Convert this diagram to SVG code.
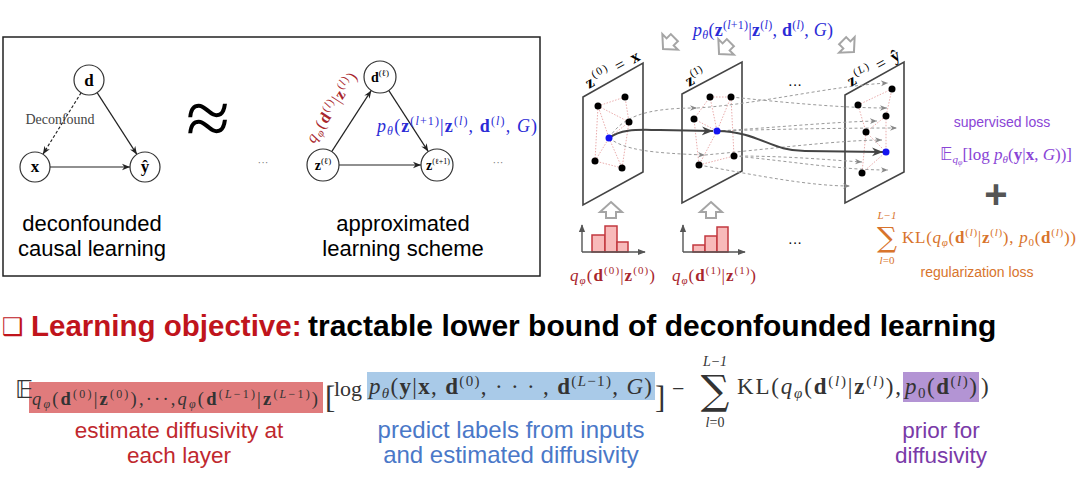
<svg xmlns="http://www.w3.org/2000/svg" width="1080" height="486" viewBox="0 0 1080 486">
<style>
.m{font-family:"Liberation Serif","DejaVu Serif",serif}
.s{font-family:"Liberation Sans",Arial,sans-serif}
.b{font-weight:bold}
.i{font-style:italic}
.node{fill:#fff;stroke:#333;stroke-width:1.2}
.edge{stroke:#222;stroke-width:1.2;fill:none}
.plane{fill:none;stroke:#444;stroke-width:1.6}
.pink{stroke:#e6a3a3;stroke-width:0.9;stroke-dasharray:1.5,1.5;fill:none}
.dash{stroke:#9a9a9a;stroke-width:1;stroke-dasharray:3,2.5;fill:none}
.dot{fill:#000}
.blue{fill:#1414f0}
.hollow{fill:#fff;stroke:#a5a5a5;stroke-width:2;stroke-linejoin:miter}
.bar{fill:#f8baba;stroke:#c2393f;stroke-width:1.5}
.axis{stroke:#555;stroke-width:1.4;fill:none}
.sig{font-family:"DejaVu Serif","Liberation Serif",serif}
</style>
<defs>
<marker id="ah" viewBox="0 0 10 10" refX="10" refY="5" markerWidth="8" markerHeight="8" orient="auto" markerUnits="userSpaceOnUse"><path d="M0,1 L10,5 L0,9 L3,5 z" fill="#222"/></marker>
<marker id="ahg" viewBox="0 0 10 10" refX="10" refY="5" markerWidth="7" markerHeight="7" orient="auto" markerUnits="userSpaceOnUse"><path d="M0,1 L10,5 L0,9 L3,5 z" fill="#888"/></marker>
<marker id="ahd" viewBox="0 0 10 10" refX="10" refY="5" markerWidth="11" markerHeight="11" orient="auto" markerUnits="userSpaceOnUse"><path d="M0,1 L10,5 L0,9 L3,5 z" fill="#444"/></marker>
<marker id="aha" viewBox="0 0 10 10" refX="9" refY="5" markerWidth="8" markerHeight="8" orient="auto" markerUnits="userSpaceOnUse"><path d="M0,1 L10,5 L0,9 z" fill="#555"/></marker>
<path id="harrow" d="M0,-7 L11,3 L5,3 L5,9 L-5,9 L-5,3 L-11,3 Z"/>
</defs>

<!-- left box -->
<rect x="3" y="37" width="537" height="239" fill="none" stroke="#222" stroke-width="1.5"/>

<g id="connectors">
  <line class="edge" x1="97.1" y1="92.6" x2="136.9" y2="154.4" marker-end="url(#ah)"/>
  <line class="edge" x1="81.1" y1="92.7" x2="42.9" y2="154.3" stroke-dasharray="3,2" marker-end="url(#ah)"/>
  <line class="edge" x1="50" y1="167" x2="130" y2="167" marker-end="url(#ah)"/>
  <line class="edge" x1="331.7" y1="151.6" x2="371.3" y2="90.4" marker-end="url(#ah)"/>
  <line class="edge" x1="388.7" y1="90.4" x2="428.3" y2="151.6" marker-end="url(#ah)"/>
  <line class="edge" x1="339" y1="165" x2="421" y2="165" marker-end="url(#ah)"/>
</g>

<g id="node-d"><circle class="node" cx="89" cy="80" r="15"/><text class="m b" x="89" y="86" font-size="17" text-anchor="middle">d</text></g>
<g id="node-x"><circle class="node" cx="35" cy="167" r="15"/><text class="m b" x="35" y="172" font-size="17" text-anchor="middle">x</text></g>
<g id="node-yhat"><circle class="node" cx="145" cy="167" r="15"/><text class="m b" x="145" y="172" font-size="17" text-anchor="middle">ŷ</text></g>
<text class="m" x="60" y="124" font-size="14" fill="#444" text-anchor="middle">Deconfound</text>
<text class="m" x="208" y="145" font-size="80" text-anchor="middle">≈</text>
<text class="m" x="263" y="166" font-size="11" fill="#777" text-anchor="middle">···</text>
<text class="s" x="92" y="231" font-size="22" text-anchor="middle">deconfounded</text>
<text class="s" x="92" y="256" font-size="22" text-anchor="middle">causal learning</text>

<g id="node-dl"><circle class="node" cx="380" cy="77" r="16"/><text class="m" x="380" y="82" font-size="14" text-anchor="middle"><tspan class="b">d</tspan><tspan font-size="9" dy="-6">(ℓ)</tspan></text></g>
<g id="node-zl"><circle class="node" cx="323" cy="165" r="16"/><text class="m" x="323" y="170" font-size="14" text-anchor="middle"><tspan class="b">z</tspan><tspan font-size="9" dy="-6">(ℓ)</tspan></text></g>
<g id="node-zl1"><circle class="node" cx="437" cy="165" r="16"/><text class="m" x="438" y="170" font-size="14" text-anchor="middle"><tspan class="b">z</tspan><tspan font-size="8" dy="-6">(ℓ+1)</tspan></text></g>
<text class="m" transform="translate(314,144) rotate(-57)" font-size="16" fill="#a8262d" textLength="80"><tspan class="i">q</tspan><tspan class="i" font-size="11" dy="3">φ</tspan><tspan dy="-3">(</tspan><tspan class="b">d</tspan><tspan font-size="11" dy="-6">(<tspan class="i">l</tspan>)</tspan><tspan dy="6">|</tspan><tspan class="b">z</tspan><tspan font-size="11" dy="-6">(<tspan class="i">l</tspan>)</tspan><tspan dy="6">)</tspan></text>
<text class="m" x="377" y="132" font-size="18" fill="#2b2bd6" textLength="160"><tspan class="i">p</tspan><tspan class="i" font-size="12" dy="3">θ</tspan><tspan dy="-3">(</tspan><tspan class="b">z</tspan><tspan font-size="12" dy="-7">(<tspan class="i">l</tspan>+1)</tspan><tspan dy="7">|</tspan><tspan class="b">z</tspan><tspan font-size="12" dy="-7">(<tspan class="i">l</tspan>)</tspan><tspan dy="7">, </tspan><tspan class="b">d</tspan><tspan font-size="12" dy="-7">(<tspan class="i">l</tspan>)</tspan><tspan dy="7">, </tspan><tspan class="i">G</tspan>)</text>
<text class="m" x="498" y="166" font-size="11" fill="#777" text-anchor="middle">···</text>
<text class="s" x="403" y="231" font-size="22" text-anchor="middle">approximated</text>
<text class="s" x="403" y="256" font-size="22" text-anchor="middle">learning scheme</text>

<!-- right panel -->
<text class="m" x="693" y="36" font-size="18" fill="#2b2bd6" textLength="140"><tspan class="i">p</tspan><tspan class="i" font-size="12" dy="3">θ</tspan><tspan dy="-3">(</tspan><tspan class="b">z</tspan><tspan font-size="12" dy="-7">(<tspan class="i">l</tspan>+1)</tspan><tspan dy="7">|</tspan><tspan class="b">z</tspan><tspan font-size="12" dy="-7">(<tspan class="i">l</tspan>)</tspan><tspan dy="7">, </tspan><tspan class="b">d</tspan><tspan font-size="12" dy="-7">(<tspan class="i">l</tspan>)</tspan><tspan dy="7">, </tspan><tspan class="i">G</tspan>)</text>
<use href="#harrow" class="hollow" transform="translate(668,44) rotate(225)"/>
<use href="#harrow" class="hollow" transform="translate(724,49) rotate(225)"/>
<use href="#harrow" class="hollow" transform="translate(849,47) rotate(135)"/>

<g id="plane0">
  <path class="plane" d="M583,97 L643,63 L643,172 L583,205 Z"/>
  <text class="m" transform="translate(589,89) rotate(-29.5)" font-size="17" textLength="60"><tspan class="b">z</tspan><tspan font-size="11" dy="-7">(0)</tspan><tspan dy="7"> = </tspan><tspan class="b">x</tspan></text>
  <path class="pink" d="M598,106 L625,97 L629,122 L598,106 L609,138 L629,122 M598,106 L595,161 L622,168 L609,138 L595,161 M629,122 L622,168"/>
</g>
<g id="plane1">
  <path class="plane" d="M682,94 L742,62 L742,171 L682,203 Z"/>
  <text class="m" transform="translate(689,87) rotate(-29.5)" font-size="17"><tspan class="b">z</tspan><tspan font-size="11" dy="-7">(1)</tspan></text>
  <path class="pink" d="M710,97 L731,97 L734,156 L699,165 L694,119 L710,97 L717,131 L694,119 M717,131 L699,165 M731,97 L717,131"/>
</g>
<g id="planeL">
  <path class="plane" d="M845,95 L904,62 L904,172 L845,203 Z"/>
  <text class="m" transform="translate(851,87) rotate(-29.5)" font-size="17" textLength="58"><tspan class="b">z</tspan><tspan font-size="11" dy="-7">(<tspan class="i">L</tspan>)</tspan><tspan dy="7"> = </tspan><tspan class="b">ŷ</tspan></text>
  <path class="pink" d="M858,105 L892,89 L886,116 L866,132 L858,105 M866,132 L886,152 L886,116 M866,132 L862,173 L886,152"/>
</g>
<text class="m" x="795" y="90" font-size="14" text-anchor="middle">···</text>

<g id="flow">
  <path class="dash" d="M609,138 C622,118 642,108 697,108" marker-end="url(#ahg)"/>
  <path class="dash" d="M609,138 C625,150 650,153 705,155" marker-end="url(#ahg)"/>
  <path class="dash" d="M697,108 C760,104 830,86 888,83" marker-end="url(#ahg)"/>
  <path class="dash" d="M731,97 C780,102 840,108 887,108" marker-end="url(#ahg)"/>
  <path class="dash" d="M717,131 C770,128 830,122 877,121" marker-end="url(#ahg)"/>
  <path class="dash" d="M717,131 C780,129 850,128 897,128" marker-end="url(#ahg)"/>
  <path class="dash" d="M705,155 C760,150 840,140 882,140" marker-end="url(#ahg)"/>
  <path class="dash" d="M734,156 C790,156 830,160 862,162" marker-end="url(#ahg)"/>
  <path class="dash" d="M734,156 C790,161 840,170 888,170" marker-end="url(#ahg)"/>
  <path class="dash" d="M699,165 C760,176 810,186 850,186" marker-end="url(#ahg)"/>
  <path d="M609,138 C622,128 640,130 660,130 L713,131" fill="none" stroke="#444" stroke-width="2" marker-end="url(#ahd)"/>
  <path d="M717,131 C760,132 770,151 805,151 L883,152" fill="none" stroke="#444" stroke-width="2" marker-end="url(#ahd)"/>
</g>

<g id="nodes-planes">
  <circle class="dot" cx="598" cy="106" r="3.5"/><circle class="dot" cx="625" cy="97" r="3.5"/><circle class="dot" cx="629" cy="122" r="3.5"/><circle class="dot" cx="595" cy="161" r="3.5"/><circle class="dot" cx="622" cy="168" r="3.5"/><circle class="blue" cx="609" cy="138" r="3.5"/>
  <circle class="dot" cx="710" cy="97" r="3.5"/><circle class="dot" cx="731" cy="97" r="3.5"/><circle class="dot" cx="694" cy="119" r="3.5"/><circle class="dot" cx="734" cy="156" r="3.5"/><circle class="dot" cx="699" cy="165" r="3.5"/><circle class="blue" cx="717" cy="131" r="3.5"/>
  <circle class="dot" cx="892" cy="89" r="3.5"/><circle class="dot" cx="858" cy="105" r="3.5"/><circle class="dot" cx="886" cy="116" r="3.5"/><circle class="dot" cx="866" cy="132" r="3.5"/><circle class="dot" cx="862" cy="173" r="3.5"/><circle class="blue" cx="886" cy="152" r="3.5"/>
</g>

<g id="hist0">
  <use href="#harrow" class="hollow" transform="translate(611,209)"/>
  <rect class="bar" x="592" y="235" width="13" height="17"/><rect class="bar" x="605" y="226" width="12" height="26"/><rect class="bar" x="617" y="242" width="11" height="10"/>
  <path class="axis" d="M582,252 L582,225" marker-end="url(#aha)"/><path class="axis" d="M582,252 L645,252" marker-end="url(#aha)"/>
  <text class="m" x="570" y="281" font-size="17" fill="#a8262d" textLength="85"><tspan class="i">q</tspan><tspan class="i" font-size="11" dy="3">φ</tspan><tspan dy="-3">(</tspan><tspan class="b">d</tspan><tspan font-size="11" dy="-7">(0)</tspan><tspan dy="7">|</tspan><tspan class="b">z</tspan><tspan font-size="11" dy="-7">(0)</tspan><tspan dy="7">)</tspan></text>
</g>
<g id="hist1">
  <use href="#harrow" class="hollow" transform="translate(711,209)"/>
  <rect class="bar" x="693" y="245" width="12" height="7"/><rect class="bar" x="705" y="236" width="12" height="16"/><rect class="bar" x="717" y="227" width="11" height="25"/>
  <path class="axis" d="M683,252 L683,225" marker-end="url(#aha)"/><path class="axis" d="M683,252 L745,252" marker-end="url(#aha)"/>
  <text class="m" x="672" y="281" font-size="17" fill="#a8262d" textLength="84"><tspan class="i">q</tspan><tspan class="i" font-size="11" dy="3">φ</tspan><tspan dy="-3">(</tspan><tspan class="b">d</tspan><tspan font-size="11" dy="-7">(1)</tspan><tspan dy="7">|</tspan><tspan class="b">z</tspan><tspan font-size="11" dy="-7">(1)</tspan><tspan dy="7">)</tspan></text>
</g>
<text class="m" x="795" y="248" font-size="14" text-anchor="middle">···</text>

<g id="losses">
  <text class="s" x="1002" y="127" font-size="14" fill="#8a45d6" text-anchor="middle">supervised loss</text>
  <text class="m" x="940" y="160" font-size="17" fill="#8a45d6" textLength="132"><tspan font-family="DejaVu Sans">𝔼</tspan><tspan class="i" font-size="11" dy="3">q</tspan><tspan class="i" font-size="8" dy="2">φ</tspan><tspan dy="-5">[log </tspan><tspan class="i">p</tspan><tspan class="i" font-size="11" dy="3">θ</tspan><tspan dy="-3">(</tspan><tspan class="b">y</tspan>|<tspan class="b">x</tspan>, <tspan class="i">G</tspan>))]</text>
  <text class="s" x="996" y="208" font-size="40" fill="#555" text-anchor="middle" font-weight="bold">+</text>
  <g fill="#d8742c">
    <text class="m i" x="887" y="219" font-size="11" text-anchor="middle">L−1</text>
    <text class="sig" x="887" y="247" font-size="28" text-anchor="middle">∑</text>
    <text class="m" x="887" y="264" font-size="11" text-anchor="middle"><tspan class="i">l</tspan>=0</text>
    <text class="m" x="902" y="243" font-size="17" textLength="174"><tspan>KL(</tspan><tspan class="i">q</tspan><tspan class="i" font-size="11" dy="3">φ</tspan><tspan dy="-3">(</tspan><tspan class="b">d</tspan><tspan font-size="11" dy="-7">(<tspan class="i">l</tspan>)</tspan><tspan dy="7">|</tspan><tspan class="b">z</tspan><tspan font-size="11" dy="-7">(<tspan class="i">l</tspan>)</tspan><tspan dy="7">), </tspan><tspan class="i">p</tspan><tspan font-size="11" dy="3">0</tspan><tspan dy="-3">(</tspan><tspan class="b">d</tspan><tspan font-size="11" dy="-7">(<tspan class="i">l</tspan>)</tspan><tspan dy="7">))</tspan></text>
    <text class="s" x="977" y="277" font-size="14" text-anchor="middle">regularization loss</text>
  </g>
</g>

<!-- title -->
<text x="2" y="335" font-size="24" fill="#c0141c" font-family="DejaVu Sans">❑</text>
<text class="s b" x="31" y="336" font-size="29.5" fill="#c0141c">Learning objective:</text>
<text class="s b" x="308" y="336" font-size="30" fill="#000">tractable lower bound of deconfounded learning</text>

<!-- bottom formula -->
<g id="formula">
  <rect x="29" y="382" width="294" height="31" fill="#e07b7c"/>
  <rect x="367" y="372" width="288" height="28" fill="#a9cae8"/>
  <rect x="903" y="372" width="76" height="30" fill="#b394d4"/>
  <text x="15" y="398" font-size="25" fill="#333" font-family="DejaVu Sans">𝔼</text>
  <text class="m" x="32" y="405" font-size="18.5" fill="#333" textLength="286"><tspan class="i">q</tspan><tspan class="i" font-size="12" dy="3">φ</tspan><tspan dy="-3">(</tspan><tspan class="b">d</tspan><tspan font-size="12" dy="-7">(0)</tspan><tspan dy="7">|</tspan><tspan class="b">z</tspan><tspan font-size="12" dy="-7">(0)</tspan><tspan dy="7">),···,</tspan><tspan class="i">q</tspan><tspan class="i" font-size="12" dy="3">φ</tspan><tspan dy="-3">(</tspan><tspan class="b">d</tspan><tspan font-size="12" dy="-7">(<tspan class="i">L</tspan>−1)</tspan><tspan dy="7">|</tspan><tspan class="b">z</tspan><tspan font-size="12" dy="-7">(<tspan class="i">L</tspan>−1)</tspan><tspan dy="7">)</tspan></text>
  <text class="m" x="325" y="408" font-size="31" fill="#333">[</text>
  <text class="m" x="334" y="396" font-size="22" fill="#333">log</text>
  <text class="m" x="369" y="394" font-size="23" fill="#333" textLength="283"><tspan class="i">p</tspan><tspan class="i" font-size="15" dy="4">θ</tspan><tspan dy="-4">(</tspan><tspan class="b">y</tspan><tspan>|</tspan><tspan class="b">x</tspan><tspan>, </tspan><tspan class="b">d</tspan><tspan font-size="15" dy="-8">(0)</tspan><tspan dy="8">, · · · , </tspan><tspan class="b">d</tspan><tspan font-size="15" dy="-8">(<tspan class="i">L</tspan>−1)</tspan><tspan dy="8">, </tspan><tspan class="i">G</tspan><tspan>)</tspan></text>
  <text class="m" x="655" y="408" font-size="31" fill="#333">]</text>
  <text class="m" x="672" y="396" font-size="22" fill="#333">−</text>
  <text class="m i" x="715" y="366" font-size="14" fill="#333" text-anchor="middle">L−1</text>
  <text class="sig" x="715" y="404" font-size="40" fill="#333" text-anchor="middle">∑</text>
  <text class="m" x="715" y="427" font-size="14" fill="#333" text-anchor="middle"><tspan class="i">l</tspan>=0</text>
  <text class="m" x="737" y="394" font-size="23" fill="#333" textLength="164"><tspan>KL(</tspan><tspan class="i">q</tspan><tspan class="i" font-size="15" dy="4">φ</tspan><tspan dy="-4">(</tspan><tspan class="b">d</tspan><tspan font-size="15" dy="-8">(<tspan class="i">l</tspan>)</tspan><tspan dy="8">|</tspan><tspan class="b">z</tspan><tspan font-size="15" dy="-8">(<tspan class="i">l</tspan>)</tspan><tspan dy="8">),</tspan></text>
  <text class="m" x="905" y="394" font-size="23" fill="#333" textLength="72"><tspan class="i">p</tspan><tspan font-size="15" dy="4">0</tspan><tspan dy="-4">(</tspan><tspan class="b">d</tspan><tspan font-size="15" dy="-8">(<tspan class="i">l</tspan>)</tspan><tspan dy="8">)</tspan></text>
  <text class="m" x="981" y="394" font-size="23" fill="#333">)</text>
</g>

<g id="annotations" class="s" text-anchor="middle">
  <text x="179" y="438" font-size="22.5" fill="#c0282e">estimate diffusivity at</text>
  <text x="179" y="463" font-size="22.5" fill="#c0282e">each layer</text>
  <text x="511" y="438" font-size="24" fill="#4a78c8">predict labels from inputs</text>
  <text x="511" y="463" font-size="24" fill="#4a78c8">and estimated diffusivity</text>
  <text x="941" y="438" font-size="22.5" fill="#7a3aa8">prior for</text>
  <text x="941" y="463" font-size="22.5" fill="#7a3aa8">diffusivity</text>
</g>
</svg>
